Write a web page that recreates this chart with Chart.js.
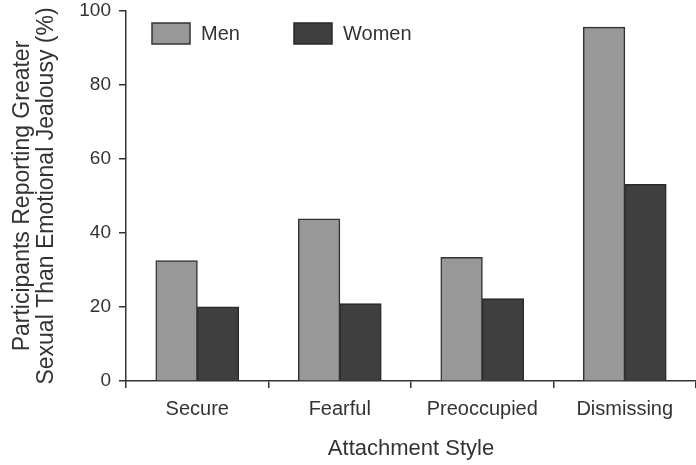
<!DOCTYPE html>
<html>
<head>
<meta charset="utf-8">
<script src="https://cdn.jsdelivr.net/npm/chart.js@4"></script>
<style>
html,body{margin:0;padding:0;background:#fff;}
#wrap{width:696px;height:465px;}
</style>
</head>
<body>
<div id="wrap"><canvas id="c"></canvas></div>
<script>
const categories = ["Secure", "Fearful", "Preoccupied", "Dismissing"];
const menValues = [32.5, 43.8, 33.4, 95.6];
const womenValues = [20.0, 20.9, 22.2, 53.1];
const yTicks = [0, 20, 40, 60, 80, 100];
const seriesNames = ["Men", "Women"];

const FONT = "'Liberation Sans', Arial, Helvetica, sans-serif";
const INK = "#333333";

const legendPlugin = {
  id: "insideLegend",
  afterDraw(chart) {
    const ctx = chart.ctx;
    const starts = [152, 294];
    ctx.save();
    chart.data.datasets.forEach((ds, i) => {
      const x = starts[i];
      const y = 23;
      ctx.fillStyle = ds.backgroundColor;
      ctx.fillRect(x, y, 38, 21);
      ctx.strokeStyle = ds.borderColor;
      ctx.lineWidth = 1.5;
      ctx.strokeRect(x, y, 38, 21);
      ctx.fillStyle = INK;
      ctx.font = "20px " + FONT;
      ctx.textBaseline = "middle";
      ctx.textAlign = "left";
      ctx.fillText(ds.label, x + 49, y + 11);
    });
    ctx.restore();
  }
};

new Chart(document.getElementById("c"), {
  type: "bar",
  data: {
    labels: categories,
    datasets: [
      { label: seriesNames[0], data: menValues, backgroundColor: "#989898", borderColor: INK, borderWidth: 1.5, inflateAmount: 0.5 },
      { label: seriesNames[1], data: womenValues, backgroundColor: "#3f3f3f", borderColor: "#2a2a2a", borderWidth: 1.5, inflateAmount: 0.5 }
    ]
  },
  options: {
    responsive: true,
    maintainAspectRatio: false,
    animation: false,
    layout: { autoPadding: false, padding: { left: 0, right: 0, top: 11, bottom: 0 } },
    plugins: { legend: { display: false }, tooltip: { enabled: false } },
    datasets: { bar: { categoryPercentage: 0.58, barPercentage: 1.0 } },
    scales: {
      x: {
        afterFit(scale) { scale.height = 84; scale.paddingLeft = 0; scale.paddingRight = 0; },
        grid: { display: true, drawOnChartArea: false, drawTicks: true, tickLength: 7, color: INK, lineWidth: 1.5, offset: true },
        border: { display: true, color: INK, width: 1.5 },
        ticks: { color: INK, padding: 9, font: { family: FONT, size: 20 } },
        title: { display: true, text: "Attachment Style", color: INK, font: { family: FONT, size: 22 }, padding: { top: 10, bottom: 3 } }
      },
      y: {
        min: 0,
        max: 100,
        afterBuildTicks(scale) { scale.ticks = yTicks.map(v => ({ value: v })); },
        afterFit(scale) { scale.width = 126; scale.paddingTop = 0; scale.paddingBottom = 0; },
        grid: { display: true, drawOnChartArea: false, drawTicks: true, tickLength: 7, color: INK, lineWidth: 1.5 },
        border: { display: true, color: INK, width: 1.5 },
        ticks: { color: INK, padding: 8, font: { family: FONT, size: 19 } },
        title: {
          display: true,
          text: ["Participants Reporting Greater", "Sexual Than Emotional Jealousy (%)"],
          color: INK,
          font: { family: FONT, size: 23, lineHeight: 1.043 },
          padding: { top: 11, bottom: 10 }
        }
      }
    }
  },
  plugins: [legendPlugin]
});
</script>
</body>
</html>
